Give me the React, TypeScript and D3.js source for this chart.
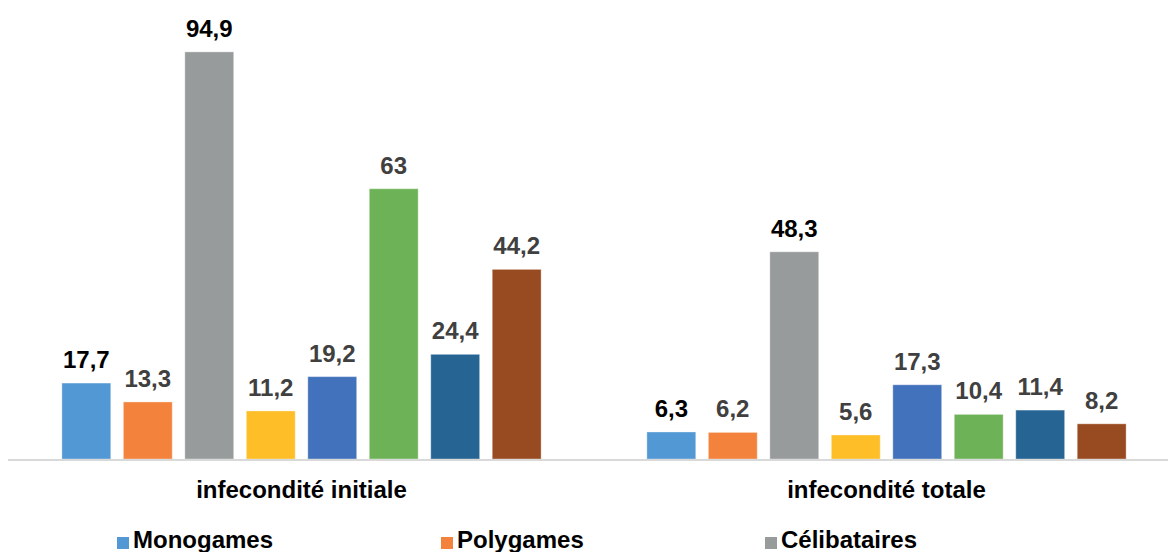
import React from "react";
import * as d3 from "d3";

const categories = ["infecondité initiale", "infecondité totale"];
const seriesKeys = ["s1", "s2", "s3", "s4", "s5", "s6", "s7", "s8"];
const seriesColors = ["#5198d4", "#f3823c", "#989b9b", "#fdbe28", "#4272bb", "#6eb257", "#266493", "#984b20"];
const labelColors = ["#000000", "#404040", "#000000", "#404040", "#404040", "#404040", "#404040", "#404040"];
const valuesInitiale = [17.7, 13.3, 94.9, 11.2, 19.2, 63, 24.4, 44.2];
const valuesTotale = [6.3, 6.2, 48.3, 5.6, 17.3, 10.4, 11.4, 8.2];
const legendLabels = ["Monogames", "Polygames", "Célibataires"];

const W = 1168;
const H = 552;
const FONT = "'Liberation Sans', Arial, Helvetica, sans-serif";

export default function App() {
  const data = [valuesInitiale, valuesTotale];
  const x0 = d3.scaleBand<string>().domain(categories).range([9, 1179]).paddingInner(0).paddingOuter(0);
  const x1 = d3
    .scaleBand<string>()
    .domain(seriesKeys)
    .range([0, x0.bandwidth()])
    .paddingInner(0.205)
    .paddingOuter(0.86);
  const y = d3.scaleLinear().domain([0, 100]).range([459, 30]);
  const fmt = (v: number) => String(v).replace(".", ",");

  return (
    <svg width={W} height={H} style={{ position: "absolute", left: 0, top: 0, background: "#fff" }}>
      <rect x={0} y={0} width={W} height={H} fill="#ffffff" />
      {categories.map((c, ci) => (
        <g key={c} transform={`translate(${x0(c)},0)`}>
          {data[ci].map((v, si) => {
            const bx = x1(seriesKeys[si]) as number;
            const by = y(v);
            return (
              <g key={si}>
                <rect
                  x={bx}
                  y={by}
                  width={x1.bandwidth()}
                  height={y(0) - by}
                  fill={seriesColors[si]}
                  stroke="#ffffff"
                  strokeOpacity={0.35}
                  strokeWidth={1}
                />
                <text
                  x={bx + x1.bandwidth() / 2}
                  y={by - 15}
                  textAnchor="middle"
                  fontFamily={FONT}
                  fontWeight="bold"
                  fontSize={24}
                  fill={labelColors[si]}
                >
                  {fmt(v)}
                </text>
              </g>
            );
          })}
          <text
            x={x0.bandwidth() / 2}
            y={498}
            textAnchor="middle"
            fontFamily={FONT}
            fontWeight="bold"
            fontSize={24}
            fill="#000000"
          >
            {c}
          </text>
        </g>
      ))}
      <line x1={8} x2={W} y1={460} y2={460} stroke="#d9d9d9" strokeWidth={2} />
      {legendLabels.map((l, i) => {
        const lx = 117 + i * 324;
        return (
          <g key={l}>
            <rect x={lx} y={537} width={12} height={12} fill={seriesColors[i]} />
            <text x={lx + 16} y={548} fontFamily={FONT} fontWeight="bold" fontSize={24} fill="#000000">
              {l}
            </text>
          </g>
        );
      })}
    </svg>
  );
}
